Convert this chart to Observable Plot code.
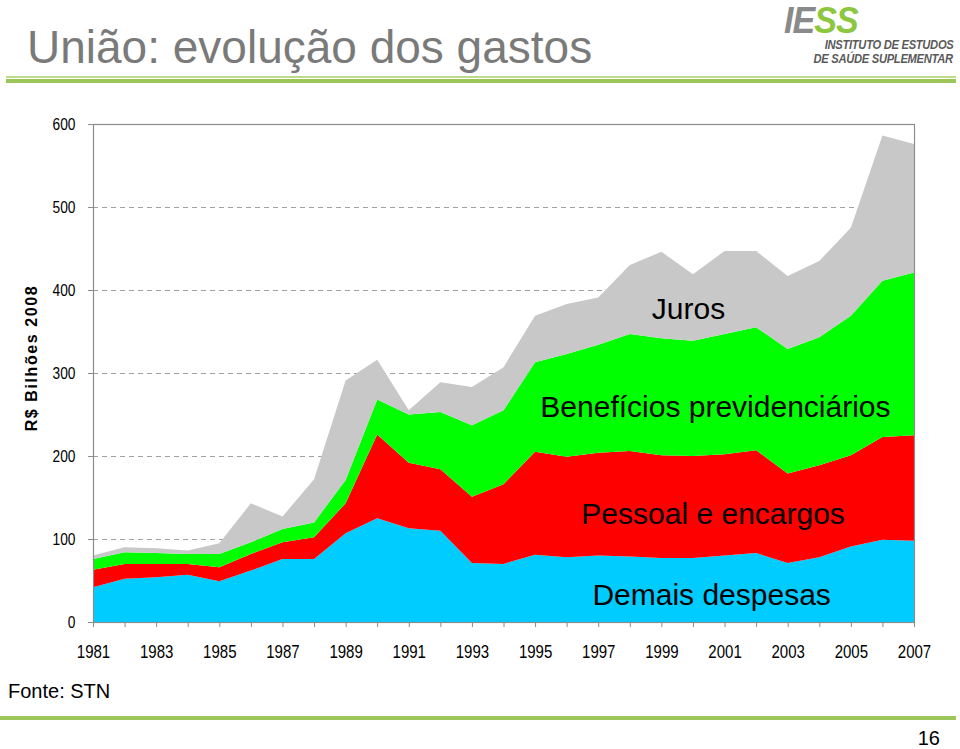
<!DOCTYPE html>
<html>
<head>
<meta charset="utf-8">
<script src="https://cdn.jsdelivr.net/npm/d3@7"></script>
<script src="https://cdn.jsdelivr.net/npm/@observablehq/plot@0.6"></script>
<style>
  html, body { margin: 0; padding: 0; background: #fff; }
  #page { position: relative; width: 960px; height: 749px; overflow: hidden; background: #fff; font-family: "Liberation Sans", Arial, sans-serif; }
  .abs { position: absolute; white-space: nowrap; }
  #title { left: 27px; top: 19px; font-size: 46px; color: #7a7a7a; line-height: 56px; }
  .gl1 { left: 6px; width: 950px; top: 76px; height: 2px; background: #bcdc8a; }
  .gl2 { left: 6px; width: 950px; top: 79px; height: 4px; background: #9cc659; }
  .gl3 { left: 0px; width: 956px; top: 716px; height: 4px; background: #9cc659; }
  #logo { left: 784px; top: 2px; font-size: 37px; line-height: 37px; font-weight: bold; font-style: italic; transform: scaleX(0.92); transform-origin: left top; letter-spacing: -1px; }
  .lg1 { right: 7px; font-size: 12px; line-height: 10px; height: 10px; font-weight: bold; font-style: italic; color: #5a5a5a; letter-spacing: -0.3px; transform: scaleX(0.93); transform-origin: right top; }
  #ylab { left: 32px; top: 358px; font-size: 16px; font-weight: bold; letter-spacing: 1.6px; transform: translate(-50%, -50%) rotate(-90deg); }
  #fonte { left: 8px; top: 680px; font-size: 20px; }
  #page16 { right: 20px; top: 727px; font-size: 20px; }
  #chart { left: 0; top: 100px; }
</style>
</head>
<body>
<div id="page">
  <div class="abs" id="title">União: evolução dos gastos</div>
  <div class="abs gl1"></div>
  <div class="abs gl2"></div>
  <div class="abs" id="logo"><span style="color:#8a8a8a">IE</span><span style="color:#8dc63f">SS</span></div>
  <div class="abs lg1" style="top:40px">INSTITUTO DE ESTUDOS</div>
  <div class="abs lg1" style="top:54px">DE SAÚDE SUPLEMENTAR</div>
  <div class="abs" id="ylab">R$ Bilhões 2008</div>
  <div class="abs" id="chart"></div>
  <div class="abs" id="fonte">Fonte: STN</div>
  <div class="abs gl3"></div>
  <div class="abs" id="page16">16</div>
</div>
<script>
const years = d3.range(1981, 2008);
const seriesNames = ["Demais despesas", "Pessoal e encargos", "Benefícios previdenciários", "Juros"];
const seriesColors = ["#00ccff", "#ff0000", "#00ff00", "#c8c8c8"];

const demais =     [42, 52, 54, 57, 49, 62, 76, 76, 107, 125, 113, 110, 71, 70, 81, 78, 80, 79, 77, 77, 80, 83, 71, 78, 91, 99, 98];
const pessoal =    [21, 18, 16, 13, 17, 20, 20, 26, 36, 101, 79, 74, 80, 96, 124, 121, 124, 127, 124, 123, 122, 124, 108, 111, 110, 124, 127];
const beneficios = [13, 14, 13, 12, 16, 14, 16, 18, 28, 42, 58, 69, 86, 89, 108, 124, 130, 141, 141, 139, 145, 148, 150, 154, 168, 188, 196];
const juros =      [4, 6, 6, 4, 13, 47, 15, 52, 120, 48, 5, 36, 46, 52, 56, 60, 57, 83, 104, 80, 100, 92, 88, 92, 106, 175, 155];

const yTicks = [0, 100, 200, 300, 400, 500, 600];
const gridTicks = [100, 200, 300, 400, 500];

const seriesValues = [demais, pessoal, beneficios, juros];
const data = [];
seriesNames.forEach((name, i) => {
  years.forEach((yr, j) => data.push({year: yr, value: seriesValues[i][j], series: name}));
});

// label anchors (annotation placement, in data units)
const labelAnchors = {
  "Juros": [1998.68, 377],
  "Benefícios previdenciários": [1995.15, 259],
  "Pessoal e encargos": [1996.45, 130],
  "Demais despesas": [1996.8, 33]
};
const labels = seriesNames.map(n => ({name: n, x: labelAnchors[n][0], y: labelAnchors[n][1]}));

const chart = Plot.plot({
  width: 960,
  height: 580,
  marginLeft: 93,
  marginRight: 46,
  marginTop: 24,
  marginBottom: 58,
  style: {fontFamily: "'Liberation Sans', Arial, sans-serif", color: "#000", background: "transparent"},
  x: {domain: [1981, 2007]},
  y: {domain: [0, 600]},
  color: {domain: seriesNames, range: seriesColors},
  marks: [
    Plot.gridY(gridTicks, {stroke: "#a0a0a0", strokeOpacity: 1, strokeDasharray: "5,4", strokeWidth: 1}),
    Plot.areaY(data, {x: "year", y: "value", z: "series", fill: "series", order: seriesNames, curve: "linear"}),
    Plot.frame({stroke: "#8c8c8c", strokeWidth: 1.2}),
    Plot.axisY({ticks: yTicks, tickSize: 5, tickPadding: 13, fontSize: 16, label: null, stroke: "#8c8c8c", fill: "#000"}),
    Plot.axisX({ticks: years, tickSize: 5, tickPadding: 17, fontSize: 19, label: null, stroke: "#8c8c8c", fill: "#000",
      tickFormat: d => (d % 2 ? String(d) : "")}),
    Plot.text(labels, {x: "x", y: "y", text: "name", textAnchor: "start", fontSize: 30, fill: "#000"})
  ]
});
document.getElementById("chart").appendChild(chart);

// condense the tick labels like the original (narrow font look)
function condense(selector, factor) {
  chart.querySelectorAll(selector).forEach(t => {
    const w = t.getComputedTextLength();
    if (w > 0) {
      t.setAttribute("textLength", (w * factor).toFixed(2));
      t.setAttribute("lengthAdjust", "spacingAndGlyphs");
    }
  });
}
condense('g[aria-label="x-axis tick label"] text', 0.79);
condense('g[aria-label="y-axis tick label"] text', 0.86);
</script>
</body>
</html>
